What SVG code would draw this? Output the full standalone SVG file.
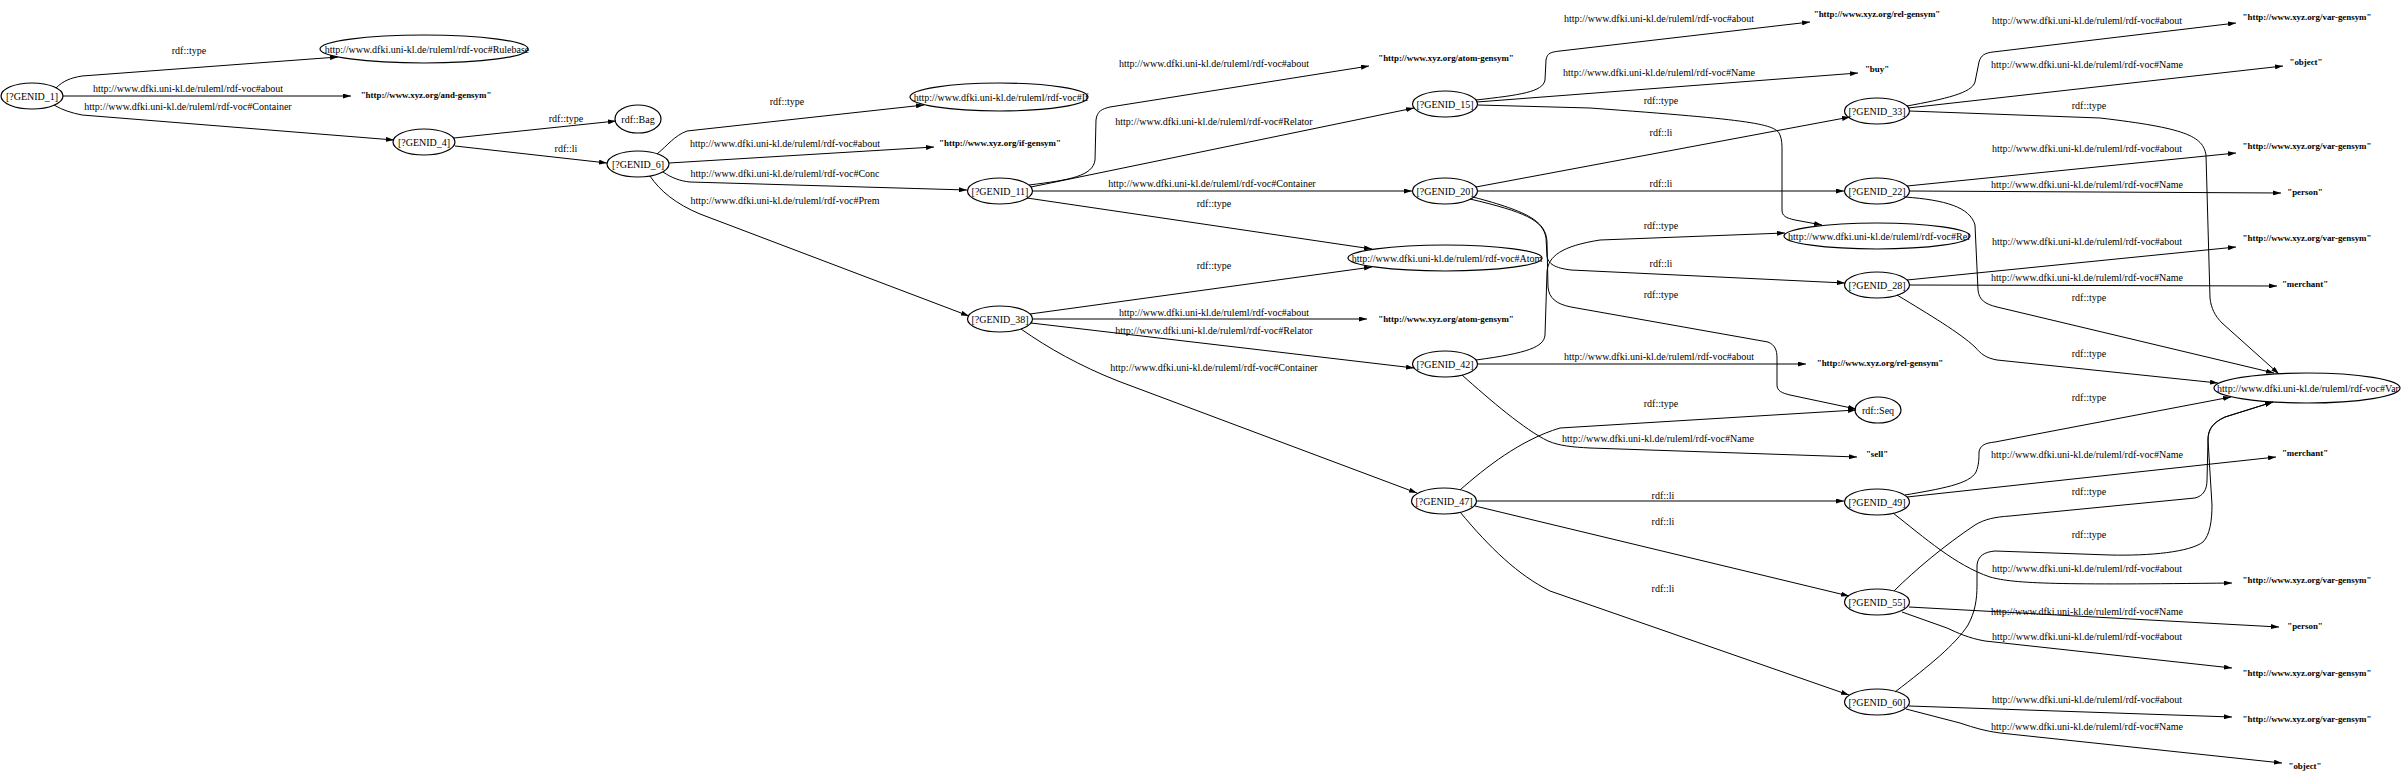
<svg xmlns="http://www.w3.org/2000/svg" width="2402" height="784" viewBox="0 0 2402 784">
<style>
text{font-family:"Liberation Serif","Times New Roman",serif;font-size:10px;text-anchor:middle;fill:#000}
.b{font-weight:bold;font-size:8.9px}
.n ellipse{fill:none;stroke:#000;stroke-width:1.2}
#edges path{fill:none;stroke:#000;stroke-width:1;marker-end:url(#arr)}
</style>
<defs>
<marker id="arr" viewBox="0 0 8 5" refX="8" refY="2.5" markerWidth="8" markerHeight="5" markerUnits="userSpaceOnUse" orient="auto"><path d="M0,0 L8,2.5 L0,5 z" fill="#000"/></marker>
</defs>
<rect width="2402" height="784" fill="#fff"/>
<g id="edges">
<path d="M56,88 C63,81 70,78 82,76 L338,57"/><text x="189" y="53.5">rdf::type</text>
<path d="M63,96 L351,96"/><text x="188" y="91.5">http://www.dfki.uni-kl.de/ruleml/rdf-voc#about</text>
<path d="M54,105 C62,110 72,113 82,115 L394,140"/><text x="188" y="109.5">http://www.dfki.uni-kl.de/ruleml/rdf-voc#Container</text>
<path d="M454,138 L616,121"/><text x="566" y="121.5">rdf::type</text>
<path d="M455,146 L607,163"/><text x="566" y="151.5">rdf::li</text>
<path d="M657,154 C668,145 674,136 687,131 L924,105"/><text x="787" y="104.5">rdf::type</text>
<path d="M669,163 L934,147"/><text x="785" y="146.5">http://www.dfki.uni-kl.de/ruleml/rdf-voc#about</text>
<path d="M663,172 C672,178 680,181 690,182 L967,190"/><text x="785" y="176.5">http://www.dfki.uni-kl.de/ruleml/rdf-voc#Conc</text>
<path d="M650,176 C660,191 676,204 700,214 L969,316"/><text x="785" y="203.5">http://www.dfki.uni-kl.de/ruleml/rdf-voc#Prem</text>
<path d="M1029,185 C1070,180 1093,176 1095,160 L1096,120 C1097,111 1102,109 1110,107 L1369,66"/><text x="1214" y="66.5">http://www.dfki.uni-kl.de/ruleml/rdf-voc#about</text>
<path d="M1031,187 L1414,108"/><text x="1214" y="124.5">http://www.dfki.uni-kl.de/ruleml/rdf-voc#Relator</text>
<path d="M1032.5,191 L1412,191"/><text x="1212" y="186.5">http://www.dfki.uni-kl.de/ruleml/rdf-voc#Container</text>
<path d="M1027,198 L1372,249"/><text x="1214" y="206.5">rdf::type</text>
<path d="M1030,314 L1372,267"/><text x="1214" y="268.5">rdf::type</text>
<path d="M1032.5,319 L1367,319"/><text x="1214" y="315.5">http://www.dfki.uni-kl.de/ruleml/rdf-voc#about</text>
<path d="M1031,323 L1414,368"/><text x="1214" y="333.5">http://www.dfki.uni-kl.de/ruleml/rdf-voc#Relator</text>
<path d="M1021,329 C1048,348 1080,366 1118,381 L1417,493"/><text x="1214" y="370.5">http://www.dfki.uni-kl.de/ruleml/rdf-voc#Container</text>
<path d="M1476,100 C1520,95 1543,92 1545,80 L1546,60 C1547,53 1551,52 1560,51 L1810,22"/><text x="1659" y="21.5">http://www.dfki.uni-kl.de/ruleml/rdf-voc#about</text>
<path d="M1477,102 L1858,73"/><text x="1659" y="75.5">http://www.dfki.uni-kl.de/ruleml/rdf-voc#Name</text>
<path d="M1477.5,105 L1590,108 C1755,120 1776,124 1780,135 C1782,140 1782,145 1782,150 L1782,210 C1782,216 1786,218 1795,220 L1822,225"/><text x="1661" y="103.5">rdf::type</text>
<path d="M1476,187 L1850,117"/><text x="1661" y="135.5">rdf::li</text>
<path d="M1477.5,191 L1844,191"/><text x="1661" y="186.5">rdf::li</text>
<path d="M1476,360 C1528,353 1544,347 1545,335 L1547,272 C1548,256 1562,246 1600,240 L1785,233"/><text x="1661" y="228.5">rdf::type</text>
<path d="M1470,199 C1525,212 1543,220 1546,238 L1547,256 C1548,264 1555,268 1571,270 L1845,283"/><text x="1661" y="266.5">rdf::li</text>
<path d="M1473,197 C1530,212 1546,222 1547,242 L1548,287 C1549,298 1556,304 1571,307 L1768,342 C1775,345 1777,350 1777,358 L1777,385 C1777,391 1782,393 1790,395 L1856,409"/><text x="1661" y="297.5">rdf::type</text>
<path d="M1477.5,364 L1806,364"/><text x="1659" y="359.5">http://www.dfki.uni-kl.de/ruleml/rdf-voc#about</text>
<path d="M1460,490 C1485,468 1520,440 1560,428 L1856,410"/><text x="1661" y="406.5">rdf::type</text>
<path d="M1462,375 C1490,400 1525,430 1548,441 C1560,446 1572,447 1590,448 L1857,457"/><text x="1658" y="441.5">http://www.dfki.uni-kl.de/ruleml/rdf-voc#Name</text>
<path d="M1476.5,501 L1844,501"/><text x="1663" y="498.5">rdf::li</text>
<path d="M1475,506 L1849,596"/><text x="1663" y="524.5">rdf::li</text>
<path d="M1460,512 C1490,548 1518,575 1550,591 L1849,695"/><text x="1663" y="591.5">rdf::li</text>
<path d="M1907,106 C1945,99 1972,93 1975,82 L1979,62 C1981,55 1985,53 1993,52 L2236,23"/><text x="2087" y="23.5">http://www.dfki.uni-kl.de/ruleml/rdf-voc#about</text>
<path d="M1908,108 L2283,66"/><text x="2087" y="67.5">http://www.dfki.uni-kl.de/ruleml/rdf-voc#Name</text>
<path d="M1909.5,111 L2100,118 C2185,128 2203,136 2206,155 L2210,298 C2211,308 2215,316 2222,323 L2279,374"/><text x="2089" y="108.5">rdf::type</text>
<path d="M1907,186 L2236,153"/><text x="2087" y="151.5">http://www.dfki.uni-kl.de/ruleml/rdf-voc#about</text>
<path d="M1909.5,191 L2281,193"/><text x="2087" y="187.5">http://www.dfki.uni-kl.de/ruleml/rdf-voc#Name</text>
<path d="M1905,197 C1945,200 1970,207 1975,225 L1978,290 C1979,300 1985,304 1997,307 L2274,373"/><text x="2089" y="300.5">rdf::type</text>
<path d="M1907,280 L2236,247"/><text x="2087" y="244.5">http://www.dfki.uni-kl.de/ruleml/rdf-voc#about</text>
<path d="M1909.5,285 L2277,286"/><text x="2087" y="280.5">http://www.dfki.uni-kl.de/ruleml/rdf-voc#Name</text>
<path d="M1897,295 C1930,315 1960,333 1975,347 C1981,354 1986,358 1997,360 L2218,383"/><text x="2089" y="356.5">rdf::type</text>
<path d="M1905,495 C1940,489 1970,484 1976,472 C1979,465 1979,458 1979,452 C1980,446 1984,443 1995,442 L2231,397"/><text x="2089" y="400.5">rdf::type</text>
<path d="M1907,497 L2276,457"/><text x="2087" y="457.5">http://www.dfki.uni-kl.de/ruleml/rdf-voc#Name</text>
<path d="M1893,513 C1925,538 1955,565 1990,577 C2015,584 2060,585 2232,583"/><text x="2087" y="571.5">http://www.dfki.uni-kl.de/ruleml/rdf-voc#about</text>
<path d="M1894,591 C1915,570 1945,545 1975,525 C1985,519 1995,517 2010,516 L2195,498 C2203,496 2207,490 2207,480 L2208,440 C2208,430 2212,423 2225,417 L2273,402"/><text x="2089" y="494.5">rdf::type</text>
<path d="M1909,607 L2279,627"/><text x="2087" y="614.5">http://www.dfki.uni-kl.de/ruleml/rdf-voc#Name</text>
<path d="M1902,612 L1947,628 C1958,633 1968,638 1985,641 L2232,668"/><text x="2087" y="639.5">http://www.dfki.uni-kl.de/ruleml/rdf-voc#about</text>
<path d="M1895,692 C1930,665 1955,645 1968,625 C1975,612 1977,600 1977,585 L1977,565 C1978,556 1984,552 1995,551 L2110,555 C2150,556 2190,552 2203,542 C2210,535 2212,520 2212,505 L2208,440 C2208,430 2212,423 2225,417 L2273,402"/><text x="2089" y="537.5">rdf::type</text>
<path d="M1909,706 L2232,717"/><text x="2087" y="702.5">http://www.dfki.uni-kl.de/ruleml/rdf-voc#about</text>
<path d="M1906,709 L1960,723 C1975,728 1985,731 2000,733 L2282,763"/><text x="2087" y="729.5">http://www.dfki.uni-kl.de/ruleml/rdf-voc#Name</text>
</g>
<g id="GENID_1" class="n"><ellipse cx="32" cy="96" rx="31" ry="13"/><text x="32" y="99.5">[?GENID_1]</text></g>
<g id="Rulebase" class="n"><ellipse cx="424" cy="49" rx="104" ry="14"/><text x="427" y="52.5">http://www.dfki.uni-kl.de/ruleml/rdf-voc#Rulebase</text></g>
<g id="lit_and_gensym"><text class="b" x="426" y="98">"http://www.xyz.org/and-gensym"</text></g>
<g id="GENID_4" class="n"><ellipse cx="424" cy="142" rx="31" ry="13"/><text x="424" y="145.5">[?GENID_4]</text></g>
<g id="Bag" class="n"><ellipse cx="638" cy="119" rx="23" ry="14"/><text x="638" y="122.5">rdf::Bag</text></g>
<g id="GENID_6" class="n"><ellipse cx="638" cy="164" rx="31" ry="13"/><text x="638" y="167.5">[?GENID_6]</text></g>
<g id="If" class="n"><ellipse cx="999" cy="97" rx="89" ry="14"/><text x="1001" y="100.5">http://www.dfki.uni-kl.de/ruleml/rdf-voc#If</text></g>
<g id="lit_if_gensym"><text class="b" x="1000" y="146">"http://www.xyz.org/if-gensym"</text></g>
<g id="GENID_11" class="n"><ellipse cx="1000" cy="191" rx="32.5" ry="13"/><text x="1000" y="194.5">[?GENID_11]</text></g>
<g id="GENID_38" class="n"><ellipse cx="1000" cy="319" rx="32.5" ry="13"/><text x="1000" y="322.5">[?GENID_38]</text></g>
<g id="lit_atom_gensym_1"><text class="b" x="1446" y="61">"http://www.xyz.org/atom-gensym"</text></g>
<g id="GENID_15" class="n"><ellipse cx="1445" cy="104" rx="32.5" ry="13"/><text x="1445" y="107.5">[?GENID_15]</text></g>
<g id="GENID_20" class="n"><ellipse cx="1445" cy="191" rx="32.5" ry="13"/><text x="1445" y="194.5">[?GENID_20]</text></g>
<g id="Atom" class="n"><ellipse cx="1445" cy="258" rx="97" ry="13"/><text x="1447" y="261.5">http://www.dfki.uni-kl.de/ruleml/rdf-voc#Atom</text></g>
<g id="lit_atom_gensym_2"><text class="b" x="1446" y="322">"http://www.xyz.org/atom-gensym"</text></g>
<g id="GENID_42" class="n"><ellipse cx="1445" cy="364" rx="32.5" ry="13"/><text x="1445" y="367.5">[?GENID_42]</text></g>
<g id="GENID_47" class="n"><ellipse cx="1444" cy="501" rx="32.5" ry="13"/><text x="1444" y="504.5">[?GENID_47]</text></g>
<g id="lit_rel_gensym_1"><text class="b" x="1877" y="17">"http://www.xyz.org/rel-gensym"</text></g>
<g id="lit_buy"><text class="b" x="1877" y="72">"buy"</text></g>
<g id="GENID_33" class="n"><ellipse cx="1877" cy="111" rx="32.5" ry="13"/><text x="1877" y="114.5">[?GENID_33]</text></g>
<g id="GENID_22" class="n"><ellipse cx="1877" cy="191" rx="32.5" ry="13"/><text x="1877" y="194.5">[?GENID_22]</text></g>
<g id="Rel" class="n"><ellipse cx="1877" cy="236" rx="93" ry="13"/><text x="1879" y="239.5">http://www.dfki.uni-kl.de/ruleml/rdf-voc#Rel</text></g>
<g id="GENID_28" class="n"><ellipse cx="1877" cy="285" rx="32.5" ry="13"/><text x="1877" y="288.5">[?GENID_28]</text></g>
<g id="lit_rel_gensym_2"><text class="b" x="1880" y="366">"http://www.xyz.org/rel-gensym"</text></g>
<g id="Seq" class="n"><ellipse cx="1878" cy="410" rx="23" ry="13"/><text x="1878" y="413.5">rdf::Seq</text></g>
<g id="lit_sell"><text class="b" x="1877" y="457">"sell"</text></g>
<g id="GENID_49" class="n"><ellipse cx="1877" cy="502" rx="32.5" ry="13"/><text x="1877" y="505.5">[?GENID_49]</text></g>
<g id="GENID_55" class="n"><ellipse cx="1877" cy="602" rx="32.5" ry="13"/><text x="1877" y="605.5">[?GENID_55]</text></g>
<g id="GENID_60" class="n"><ellipse cx="1877" cy="702" rx="32.5" ry="13"/><text x="1877" y="705.5">[?GENID_60]</text></g>
<g id="lit_var_gensym_33"><text class="b" x="2307" y="20">"http://www.xyz.org/var-gensym"</text></g>
<g id="lit_object_33"><text class="b" x="2306" y="65">"object"</text></g>
<g id="lit_var_gensym_22"><text class="b" x="2307" y="149">"http://www.xyz.org/var-gensym"</text></g>
<g id="lit_person_22"><text class="b" x="2305" y="195">"person"</text></g>
<g id="lit_var_gensym_28"><text class="b" x="2307" y="241">"http://www.xyz.org/var-gensym"</text></g>
<g id="lit_merchant_28"><text class="b" x="2305" y="287">"merchant"</text></g>
<g id="Var" class="n"><ellipse cx="2307" cy="388" rx="93" ry="15"/><text x="2308" y="391.5">http://www.dfki.uni-kl.de/ruleml/rdf-voc#Var</text></g>
<g id="lit_merchant_49"><text class="b" x="2305" y="456">"merchant"</text></g>
<g id="lit_var_gensym_49"><text class="b" x="2307" y="583">"http://www.xyz.org/var-gensym"</text></g>
<g id="lit_person_55"><text class="b" x="2305" y="629">"person"</text></g>
<g id="lit_var_gensym_55"><text class="b" x="2307" y="676">"http://www.xyz.org/var-gensym"</text></g>
<g id="lit_var_gensym_60"><text class="b" x="2307" y="722">"http://www.xyz.org/var-gensym"</text></g>
<g id="lit_object_60"><text class="b" x="2305" y="769">"object"</text></g>
</svg>
